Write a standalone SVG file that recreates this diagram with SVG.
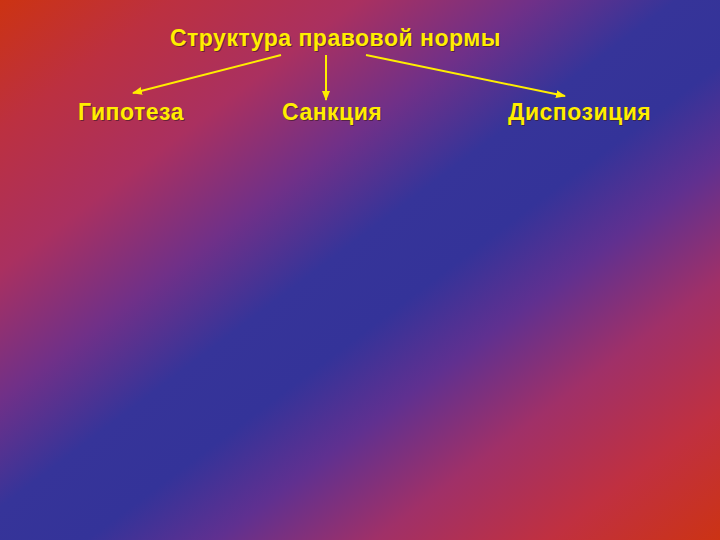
<svg xmlns="http://www.w3.org/2000/svg" width="720" height="540" viewBox="0 0 720 540">
<defs>
<linearGradient id="bg" x1="0" y1="0" x2="1" y2="1">
<stop offset="0" stop-color="#cc3312"/>
<stop offset="0.12" stop-color="#bc3040"/>
<stop offset="0.25" stop-color="#aa3060"/>
<stop offset="0.37" stop-color="#703088"/>
<stop offset="0.47" stop-color="#363499"/>
<stop offset="0.56" stop-color="#343399"/>
<stop offset="0.65" stop-color="#603090"/>
<stop offset="0.76" stop-color="#a03068"/>
<stop offset="0.88" stop-color="#c03040"/>
<stop offset="1" stop-color="#cc3314"/>
</linearGradient>
<marker id="ah" viewBox="0 0 10 10" refX="9" refY="5" markerWidth="5" markerHeight="5" orient="auto" markerUnits="strokeWidth">
<path d="M0,1 L10,5 L0,9 z" fill="#ffee00"/>
</marker>
<style>
text{font-family:"Liberation Sans",Arial,sans-serif;font-weight:bold;font-size:23px;letter-spacing:0.5px;}
.f{fill:#ffee00;}
.s{fill:#3a1a20;fill-opacity:0.6;}
.c{stroke:#ffee00;stroke-width:2;fill:none;marker-end:url(#ah);}
</style>
</defs>
<rect width="720" height="540" fill="url(#bg)"/>
<g id="title"><text class="s" x="171" y="47">Структура правовой нормы</text><text class="f" x="170" y="46">Структура правовой нормы</text></g>
<g id="hypothesis"><text class="s" x="79" y="121">Гипотеза</text><text class="f" x="78" y="120">Гипотеза</text></g>
<g id="sanction"><text class="s" x="283" y="121">Санкция</text><text class="f" x="282" y="120">Санкция</text></g>
<g id="disposition"><text class="s" x="509" y="121">Диспозиция</text><text class="f" x="508" y="120">Диспозиция</text></g>
<g id="connectors">
<line class="c" x1="281" y1="55" x2="133" y2="93"/>
<line class="c" x1="326" y1="55" x2="326" y2="100"/>
<line class="c" x1="366" y1="55" x2="565" y2="96"/>
</g>
</svg>
